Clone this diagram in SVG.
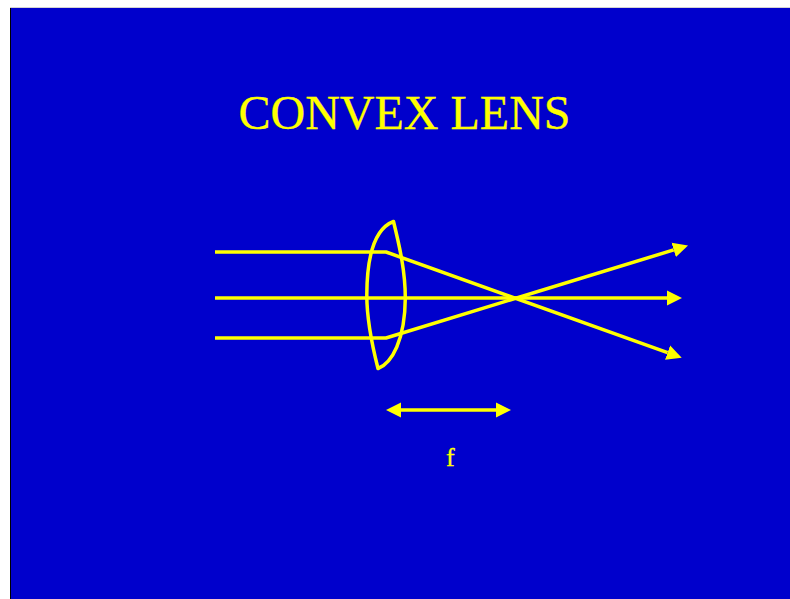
<svg xmlns="http://www.w3.org/2000/svg" width="790" height="599" viewBox="0 0 790 599">
<style>
.ray{fill:none;stroke:#ffff00;stroke-width:3.5;stroke-linejoin:round}
.t{font-family:"Liberation Serif","Times New Roman",serif;fill:#ffff00;stroke:#ffff00;stroke-width:0.3}
</style>
<defs>
<marker id="head" markerUnits="userSpaceOnUse" markerWidth="16" markerHeight="16" refX="0" refY="8" orient="auto-start-reverse" viewBox="0 0 16 16">
<path d="M0 0.500L15 8L0 15.500Z" fill="#ffff00"/>
</marker>
</defs>
<rect width="790" height="599" fill="#ffffff"/>
<rect x="10" y="7.500" width="780" height="592" fill="#a8a8a8"/>
<rect x="10" y="8" width="780" height="591" fill="#000000"/>
<rect x="11" y="8" width="779" height="591" fill="#0000cc"/>
<g id="title"><text class="t" x="238.500" y="129" font-size="48">CONVEX LENS</text></g>
<g id="lens"><path class="ray" d="M393.500 221.500C379 227 367 245 366.800 295C366.800 320 372 345 378 368.500C392 363 405 340 405.300 298C405.300 272 400 248 393.500 221.500Z" stroke-linejoin="miter"/></g>
<g id="connectors">
<path class="ray" d="M215 252H386L667.600 352.600" marker-end="url(#head)"/>
<path class="ray" d="M215 298H667" marker-end="url(#head)"/>
<path class="ray" d="M215 338H386L673.700 249.900" marker-end="url(#head)"/>
<path class="ray" d="M401 410H496" marker-start="url(#head)" marker-end="url(#head)"/>
</g>
<g id="focal-label"><text class="t" x="446" y="466" font-size="26">f</text></g>
</svg>
